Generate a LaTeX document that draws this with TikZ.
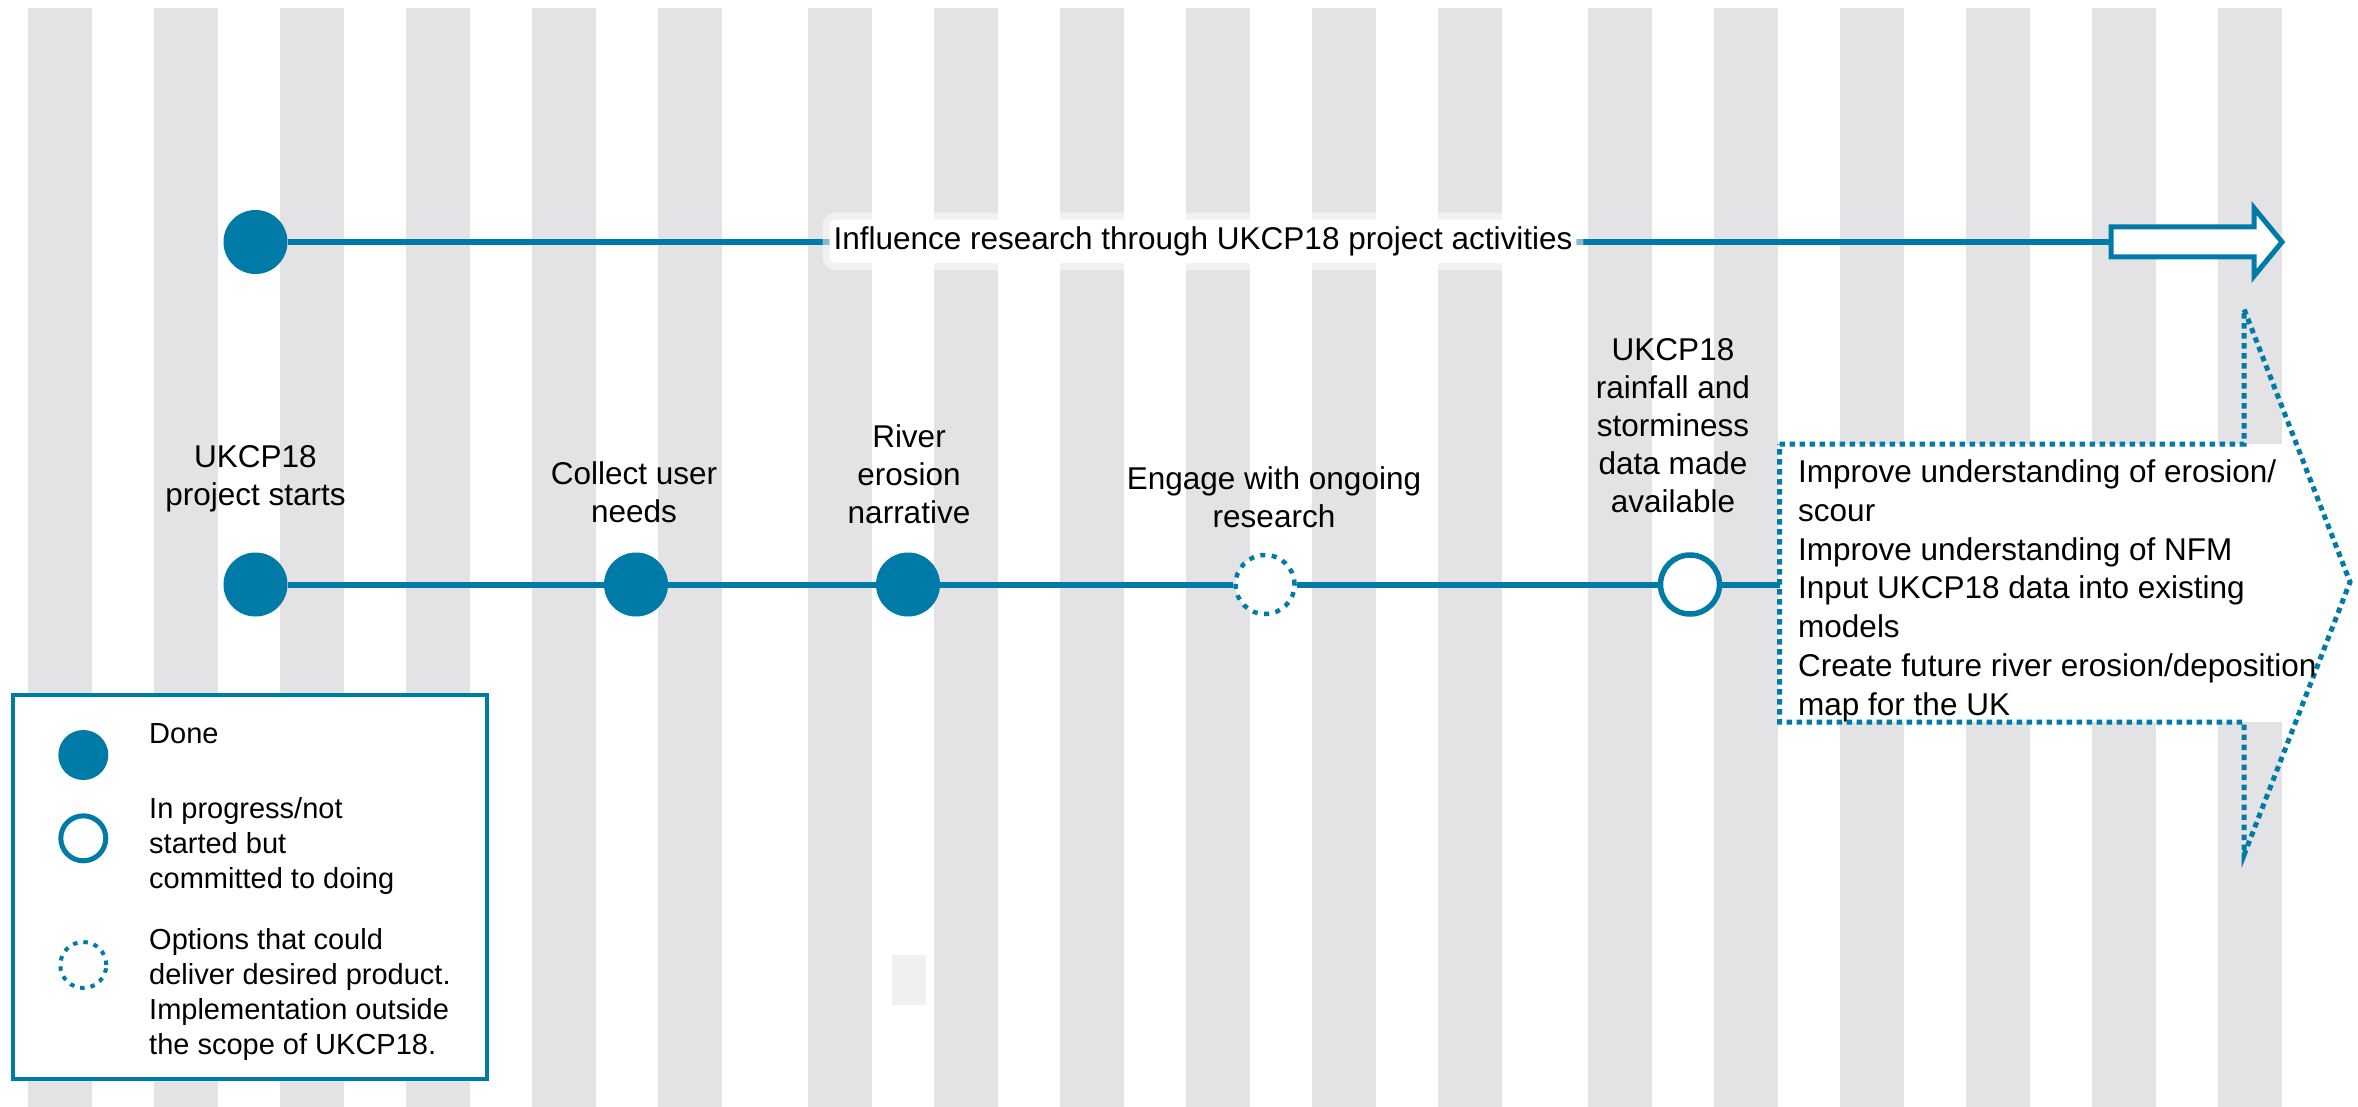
\documentclass[tikz,border=0pt]{standalone}
\usepackage{fontspec}
\setmainfont{Liberation Sans}
\definecolor{ukblue}{RGB}{0,123,167}
\definecolor{stripegray}{RGB}{227,227,229}
\definecolor{patchgray}{RGB}{240,240,240}
\begin{document}
\begin{tikzpicture}[x=1pt,y=-1pt,
  stripe/.style={fill=stripegray},
  flow/.style={draw=ukblue,line width=6pt},
  done/.style={circle,fill=ukblue,draw=none,inner sep=0pt,minimum size=64pt},
  openc/.style={circle,draw=ukblue,fill=white,line width=5.5pt,inner sep=0pt,minimum size=59pt},
  optc/.style={circle,draw=ukblue,fill=white,line width=4.5pt,inner sep=0pt,minimum size=59pt,dash pattern=on 5pt off 6.5pt},
  lbl/.style={align=center,anchor=base,inner sep=0pt,font=\fontsize{31.5}{38}\selectfont},
  boxtext/.style={align=left,anchor=base west,inner sep=0pt,font=\fontsize{31.5}{38.75}\selectfont},
  legtext/.style={align=left,anchor=base west,inner sep=0pt,font=\fontsize{29}{35}\selectfont},
  dotline/.style={draw=ukblue,line width=5pt,dash pattern=on 5.5pt off 4.5pt},
]
\useasboundingbox (0,0) rectangle (2358,1107);
\fill[white] (0,0) rectangle (2358,1107);
% background stripes
\foreach \g in {27.7,807.7,1587.7}
  \foreach \k in {0,...,5}
    \fill[stripe] ({\g+126*\k},8) rectangle ++(64.3,1099);
\fill[patchgray] (892,955) rectangle (926,1005);

% top row
\node (tc) [done] at (255.5,242) {};
\coordinate (arrtail) at (2111,242);
\draw[flow] (tc) -- (arrtail);
\draw[draw=ukblue,line width=5pt,fill=white,line join=miter]
  (2111,227) -- (2254,227) -- (2254,208) -- (2282,242) -- (2254,276) -- (2254,257) -- (2111,257) -- cycle;
\node (influence) [font=\fontsize{31.5}{38}\selectfont, fill=white, rounded corners=6pt,
  inner xsep=4pt, inner ysep=7pt, anchor=base,
  preaction={draw=white,line width=14pt,opacity=0.5}] at (1203,249.5)
  {Influence research through UKCP18 project activities};

% bottom row
\node (c1) [done] at (255.5,584.5) {};
\node (c2) [done] at (636,584.5) {};
\node (c3) [done] at (908,584.5) {};
\node (c4) [optc] at (1265,584.5) {};
\node (c5) [openc] at (1690,584.5) {};
\coordinate (boxL) at (1779.5,584.5);
\draw[flow] (c1) -- (c2);
\draw[flow] (c2) -- (c3);
\draw[flow] (c3) -- (c4);
\draw[flow] (c4) -- (c5);
\draw[flow] (c5) -- (boxL);

% outcome arrow
\fill[white] (1779.5,444) rectangle (2294,722);
\draw[dotline] (1779.5,444) -- (2244,444) -- (2244,309) -- (2350,582) -- (2244,855) -- (2244,722) -- (1779.5,722) -- cycle;
\node (outcomes) [boxtext] at (1798,715)
  {Improve understanding of erosion/\\scour\\Improve understanding of NFM\\Input UKCP18 data into existing\\models\\Create future river erosion/deposition\\map for the UK};

% labels (anchored at the baseline of the last line)
\node (l1) [lbl] at (255.5,505.3) {UKCP18\\project starts};
\node (l2) [lbl] at (634,522) {Collect user\\needs};
\node (l3) [lbl] at (909,523.7) {River\\erosion\\narrative};
\node (l4) [lbl] at (1274,527.3) {Engage with ongoing\\research};
\node (l5) [lbl] at (1673,512.7) {UKCP18\\rainfall and\\storminess\\data made\\available};

% legend
\node (legend) [draw=ukblue,line width=4.3pt,fill=white,inner sep=0pt,
  minimum width=474pt,minimum height=384pt,anchor=north west] at (10.5,693) {};
\node (kdone) [done,minimum size=50pt] at (83.3,755) {};
\node (kopen) [openc,line width=5pt,minimum size=45pt] at (83.3,838.3) {};
\node (kopt) [optc,line width=4pt,minimum size=46pt,dash pattern=on 4.5pt off 6pt] at (83.3,965) {};
\node (kdonet) [legtext] at (149,743.3) {Done};
\node (kopent) [legtext] at (149,888.3) {In progress/not\\started but\\committed to doing};
\node (koptt) [legtext] at (149,1054) {Options that could\\deliver desired product.\\Implementation outside\\the scope of UKCP18.};
\end{tikzpicture}
\end{document}
